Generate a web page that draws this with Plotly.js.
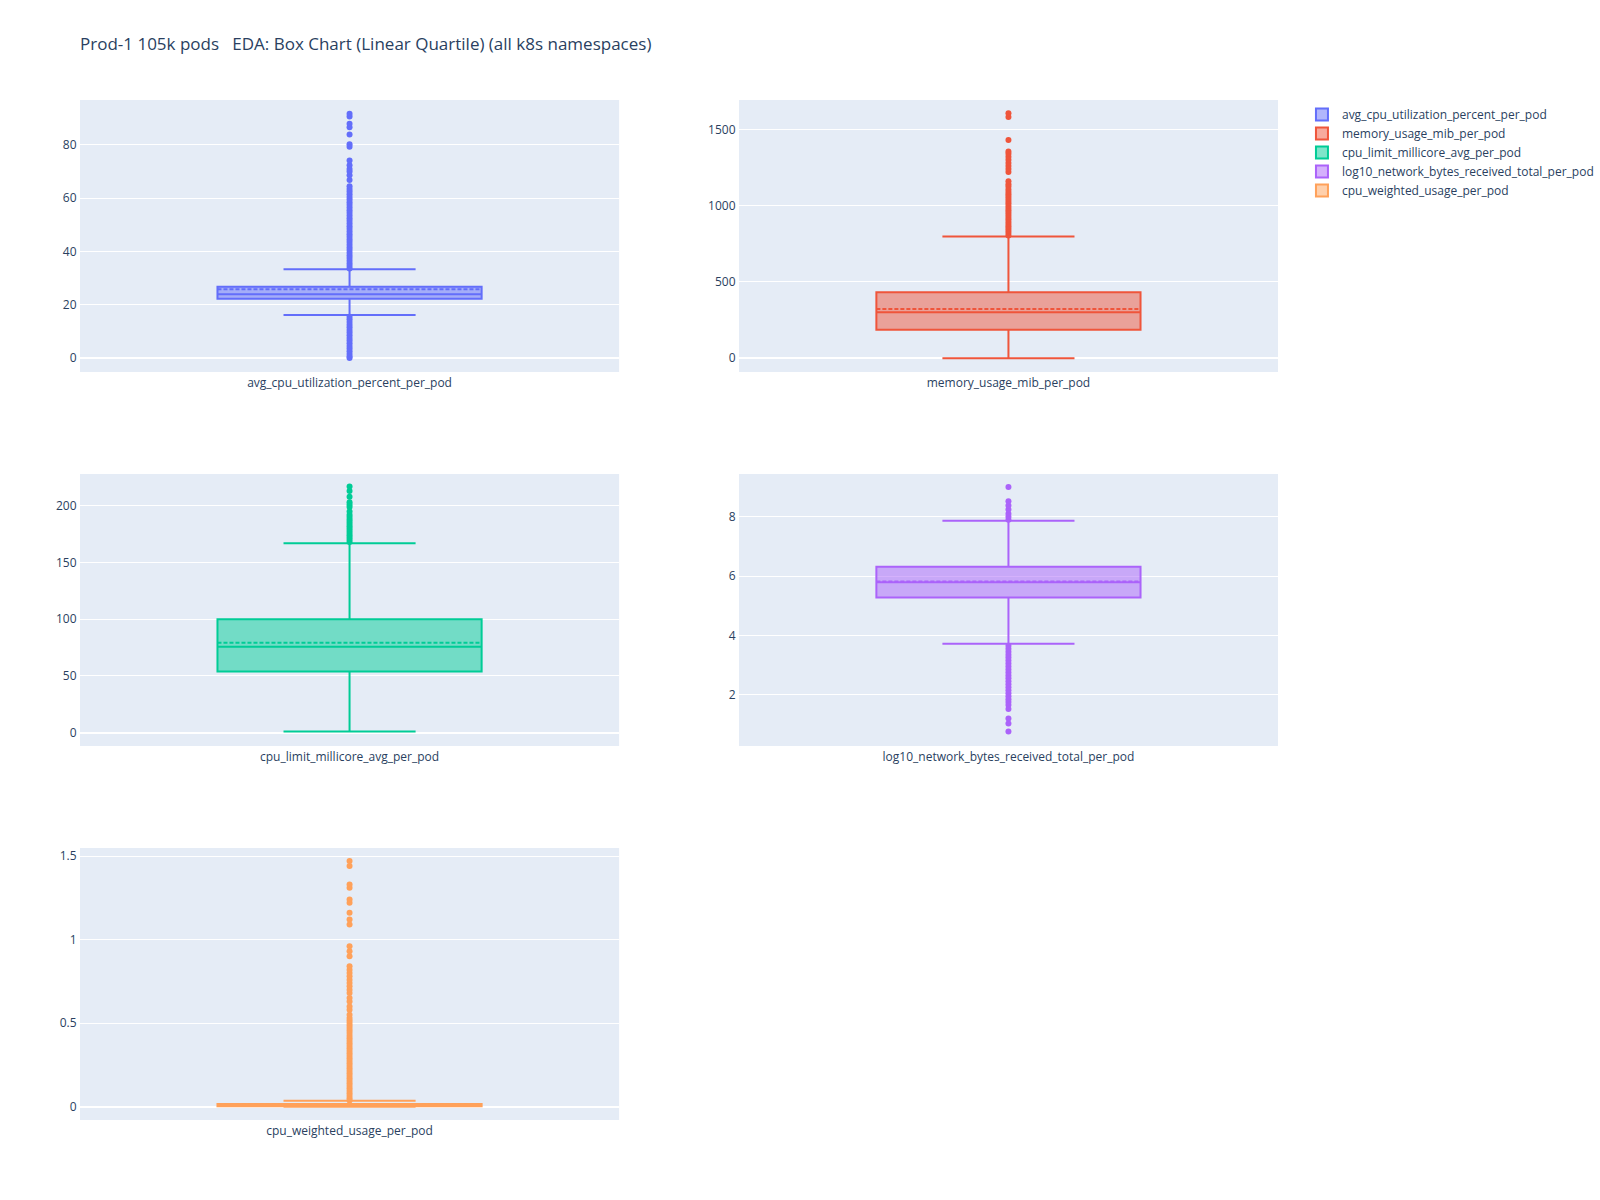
<!DOCTYPE html>
<html>
<head>
<meta charset="utf-8">
<script src="https://cdn.plot.ly/plotly-3.0.1.min.js"></script>
<style>html,body{margin:0;padding:0;background:#fff;}#chart{width:1600px;height:1200px;}</style>
</head>
<body>
<div id="chart"></div>
<script>
// ---- data ----
const names = [
  "avg_cpu_utilization_percent_per_pod",
  "memory_usage_mib_per_pod",
  "cpu_limit_millicore_avg_per_pod",
  "log10_network_bytes_received_total_per_pod",
  "cpu_weighted_usage_per_pod"
];
const colors = ["#636efa", "#EF553B", "#00cc96", "#ab63fa", "#FFA15A"];

const q1 = [22.2, 187, 54, 5.28, 0.003];
const median = [23.9, 301, 75.7, 5.79, 0.008];
const q3 = [26.7, 432, 100, 6.31, 0.016];
const mean = [25.8, 323, 79.3, 5.82, 0.012];
const lowerFence = [16.1, 0, 1, 3.72, 0];
const upperFence = [33.3, 797, 167, 7.86, 0.035];

const outliers1 = [0, 0.5, 1.5, 2.5, 3.5, 4.5, 5.5, 6.5, 7.5, 8.5, 9.5, 10.5, 11.5, 12.5, 13.5, 14.5, 15.5,
  33.6, 34.5, 35.5, 36.5, 37.5, 38.5, 39.5, 40.5, 41.5, 42.5, 43.5, 44.5, 45.5, 46.5, 47.5, 48.5, 49.5,
  50.5, 51.5, 52.5, 53.5, 54.5, 55.5, 56.5, 57.5, 58.5, 59.5, 60.5, 61.5, 62.5, 63.5, 64.5,
  66.8, 68.6, 70, 71, 72.4, 74.2, 79.3, 80.3, 83.9, 86.7, 88, 90.7, 91.7];
const outliers2 = [805, 820, 835, 850, 865, 880, 895, 910, 925, 940, 955, 970, 985, 1000, 1015, 1030,
  1045, 1060, 1075, 1090, 1105, 1125, 1140, 1160, 1220, 1240, 1260, 1280, 1300, 1320, 1340, 1355,
  1430, 1580, 1605];
const outliers3 = [168, 170, 172, 174, 176, 178, 180, 182, 184, 186, 188, 190, 192, 195, 199, 201,
  203, 208, 213, 217];
const outliers4 = [0.76, 1.03, 1.2, 1.52, 1.65, 1.75, 1.85, 1.95, 2.05, 2.15, 2.25, 2.35, 2.45, 2.55,
  2.65, 2.75, 2.85, 2.95, 3.05, 3.15, 3.25, 3.35, 3.45, 3.55, 3.65,
  7.9, 8.0, 8.1, 8.24, 8.38, 8.52, 9.0];
const outliers5 = [0.036, 0.05, 0.065, 0.08, 0.095, 0.11, 0.125, 0.14, 0.155, 0.17, 0.185, 0.2, 0.215,
  0.23, 0.245, 0.26, 0.275, 0.29, 0.305, 0.32, 0.335, 0.35, 0.365, 0.38, 0.395, 0.41, 0.425, 0.44,
  0.455, 0.47, 0.485, 0.5, 0.515, 0.53, 0.55, 0.58, 0.6, 0.63, 0.65, 0.68, 0.7, 0.72, 0.74, 0.76,
  0.78, 0.8, 0.82, 0.84, 0.9, 0.93, 0.96, 1.09, 1.12, 1.16, 1.22, 1.24, 1.31, 1.33, 1.44, 1.47];
const outlierSets = [outliers1, outliers2, outliers3, outliers4, outliers5];

// y-axis ranges
const yRanges = [[-5.3, 96.9], [-90, 1692], [-11.7, 228], [0.27, 9.44], [-0.08, 1.548]];

const titleText = "Prod-1 105k pods\u00a0\u00a0\u00a0EDA: Box Chart (Linear Quartile) (all k8s namespaces)";

// ---- build traces ----
const traces = [];
for (let i = 0; i < names.length; i++) {
  const ax = i === 0 ? "" : String(i + 1);
  traces.push({
    type: "box",
    name: names[i],
    x: [names[i]],
    q1: [q1[i]], median: [median[i]], q3: [q3[i]], mean: [mean[i]],
    lowerfence: [lowerFence[i]], upperfence: [upperFence[i]],
    boxmean: true,
    width: 0.49,
    whiskerwidth: 0.5,
    marker: {color: colors[i]},
    line: {color: colors[i], width: 2},
    xaxis: "x" + ax, yaxis: "y" + ax,
    showlegend: true
  });
  traces.push({
    type: "scatter",
    mode: "markers",
    name: names[i],
    x: outlierSets[i].map(() => names[i]),
    y: outlierSets[i],
    marker: {color: colors[i], size: 6},
    xaxis: "x" + ax, yaxis: "y" + ax,
    showlegend: false,
    hoverinfo: "y"
  });
}

// ---- layout ----
const axBase = {
  gridcolor: "white", linecolor: "white", zerolinecolor: "white", zerolinewidth: 2,
  ticks: "", automargin: false
};
const xDomains = [[0, 0.45], [0.55, 1], [0, 0.45], [0.55, 1], [0, 0.45]];
const rowH = (1 - 0.2) / 3;
const yDomains = [
  [1 - rowH, 1], [1 - rowH, 1],
  [rowH + 0.1, 2 * rowH + 0.1], [rowH + 0.1, 2 * rowH + 0.1],
  [0, rowH]
];
const layout = {
  width: 1600, height: 1200,
  paper_bgcolor: "white", plot_bgcolor: "#E5ECF6",
  font: {family: "Open Sans, verdana, arial, sans-serif", size: 12, color: "#2a3f5f"},
  title: {text: titleText, x: 0.05, xanchor: "left", y: 1 - 44 / 1200, yanchor: "middle",
          font: {size: 17, color: "#2a3f5f"}},
  margin: {l: 80, r: 322, t: 100, b: 80, autoexpand: false},
  boxmode: "overlay",
  legend: {x: 1.02, y: 1, xanchor: "left", yanchor: "top", font: {size: 12}},
  showlegend: true
};
for (let i = 0; i < 5; i++) {
  const ax = i === 0 ? "" : String(i + 1);
  layout["xaxis" + ax] = Object.assign({}, axBase, {domain: xDomains[i], anchor: "y" + ax,
    type: "category", showgrid: false, range: [-0.5, 0.5]});
  layout["yaxis" + ax] = Object.assign({}, axBase, {domain: yDomains[i], anchor: "x" + ax,
    showgrid: true, range: yRanges[i]});
}

Plotly.newPlot("chart", traces, layout, {displayModeBar: false});
</script>
</body>
</html>
